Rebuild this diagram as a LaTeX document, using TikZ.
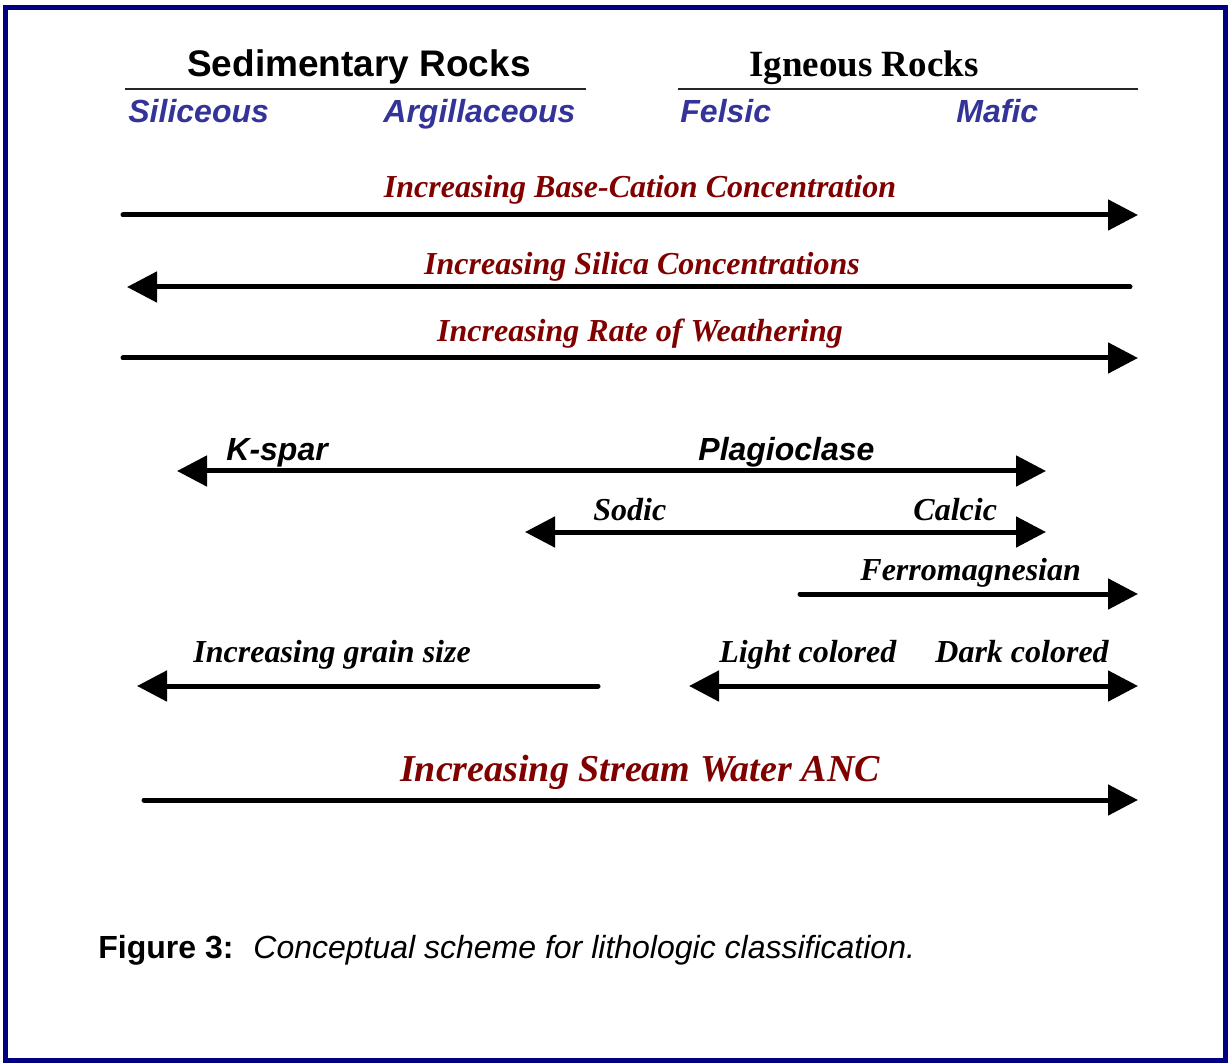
\documentclass[tikz,border=0pt]{standalone}
\usepackage{fontspec}
\setmainfont{Liberation Serif}
\setsansfont{Liberation Sans}
\usepackage{xcolor}
\usetikzlibrary{arrows.meta}
\definecolor{framenavy}{RGB}{0,0,128}
\definecolor{classblue}{RGB}{51,51,153}
\definecolor{trendred}{RGB}{128,0,0}
\tikzset{
  onearrow/.style={line width=2.5pt, line cap=round, -{Triangle[length=15pt,width=15pt]}},
  twoarrow/.style={line width=2.5pt, {Triangle[length=15pt,width=15pt]}-{Triangle[length=15pt,width=15pt]}},
  rocktitle/.style={inner sep=0pt, font=\bfseries\fontsize{18.5}{22}\selectfont},
  rockclass/.style={inner sep=0pt, anchor=base west, text=classblue, font=\sffamily\bfseries\itshape\fontsize{16}{19}\selectfont},
  trendlabel/.style={inner sep=0pt, anchor=base, text=trendred, font=\bfseries\itshape\fontsize{16}{19}\selectfont},
  minlabel/.style={inner sep=0pt, anchor=base west, font=\sffamily\bfseries\itshape\fontsize{16}{19}\selectfont},
  sublabel/.style={inner sep=0pt, anchor=base west, font=\bfseries\itshape\fontsize{16}{19}\selectfont}
}
\begin{document}
\begin{tikzpicture}[x=0.5pt,y=0.5pt,yscale=-1,xscale=1]
    \useasboundingbox (0,0) rectangle (1230,1063);
    %Shape: Frame
    \draw [framenavy, line width=2.5pt] (5,7.5) rectangle (1225.5,1060);

    % Text Node
    \node (sedtitle) [rocktitle, anchor=base, font=\sffamily\bfseries\fontsize{18.5}{22}\selectfont] at (359,77) {Sedimentary Rocks};
    % Text Node
    \node (igntitle) [rocktitle, anchor=base] at (864,77) {Igneous Rocks};
    %Straight Lines
    \coordinate (sedrule-l) at (125,89);
    \coordinate (sedrule-r) at (586,89);
    \coordinate (ignrule-l) at (678,89);
    \coordinate (ignrule-r) at (1138,89);
    \draw [line width=0.8pt, black!85] (sedrule-l) -- (sedrule-r);
    \draw [line width=0.8pt, black!85] (ignrule-l) -- (ignrule-r);

    % Text Node
    \node (siliceous) [rockclass] at (128,123) {Siliceous};
    \node (argill) [rockclass] at (383,123) {Argillaceous};
    \node (felsic) [rockclass] at (680,123) {Felsic};
    \node (mafic) [rockclass] at (956,123) {Mafic};

    % Text Node
    \node (cation) [trendlabel] at (640,198) {Increasing Base-Cation Concentration};
    \node (silica) [trendlabel] at (642,275) {Increasing Silica Concentrations};
    \node (weather) [trendlabel] at (640,342) {Increasing Rate of Weathering};
    %Straight Lines
    \coordinate (cation-l) at (123,215);
    \coordinate (cation-r) at (1138,215);
    \coordinate (silica-r) at (1130,287);
    \coordinate (silica-l) at (127,287);
    \coordinate (weather-l) at (123,358);
    \coordinate (weather-r) at (1138,358);
    \draw [onearrow] (cation-l) -- (cation-r);
    \draw [onearrow] (silica-r) -- (silica-l);
    \draw [onearrow] (weather-l) -- (weather-r);

    % Text Node
    \node (kspar) [minlabel] at (226,460) {K-spar};
    \node (plagio) [minlabel] at (698,460) {Plagioclase};
    \node (sodic) [sublabel] at (593,520) {Sodic};
    \node (calcic) [sublabel] at (913,520) {Calcic};
    \node (ferro) [sublabel] at (860,580) {Ferromagnesian};
    %Straight Lines
    \coordinate (feld-l) at (177,471);
    \coordinate (feld-r) at (1046,471);
    \coordinate (plag-l) at (525,532);
    \coordinate (plag-r) at (1046,532);
    \coordinate (ferro-l) at (800,594);
    \coordinate (ferro-r) at (1138,594);
    \draw [twoarrow] (feld-l) -- (feld-r);
    \draw [twoarrow] (plag-l) -- (plag-r);
    \draw [onearrow] (ferro-l) -- (ferro-r);

    % Text Node
    \node (grain) [sublabel] at (193,662) {Increasing grain size};
    \node (light) [sublabel] at (719,662) {Light colored};
    \node (dark) [sublabel] at (935,662) {Dark colored};
    %Straight Lines
    \coordinate (grain-r) at (598,686);
    \coordinate (grain-l) at (137,686);
    \coordinate (colour-l) at (689,686);
    \coordinate (colour-r) at (1138,686);
    \draw [onearrow] (grain-r) -- (grain-l);
    \draw [twoarrow] (colour-l) -- (colour-r);

    % Text Node
    \node (anc) [trendlabel, font=\bfseries\itshape\fontsize{19}{23}\selectfont] at (640,781) {Increasing Stream Water ANC};
    %Straight Lines
    \coordinate (anc-l) at (144,800);
    \coordinate (anc-r) at (1138,800);
    \draw [onearrow] (anc-l) -- (anc-r);

    % Text Node
    \node (figno) [inner sep=0pt, anchor=base west, font=\sffamily\bfseries\fontsize{16}{19}\selectfont] at (98,958) {Figure 3:};
    \node (figcap) [inner sep=0pt, anchor=base west, font=\sffamily\itshape\fontsize{16}{19}\selectfont] at (253,958) {Conceptual scheme for lithologic classification.};
\end{tikzpicture}
\end{document}
